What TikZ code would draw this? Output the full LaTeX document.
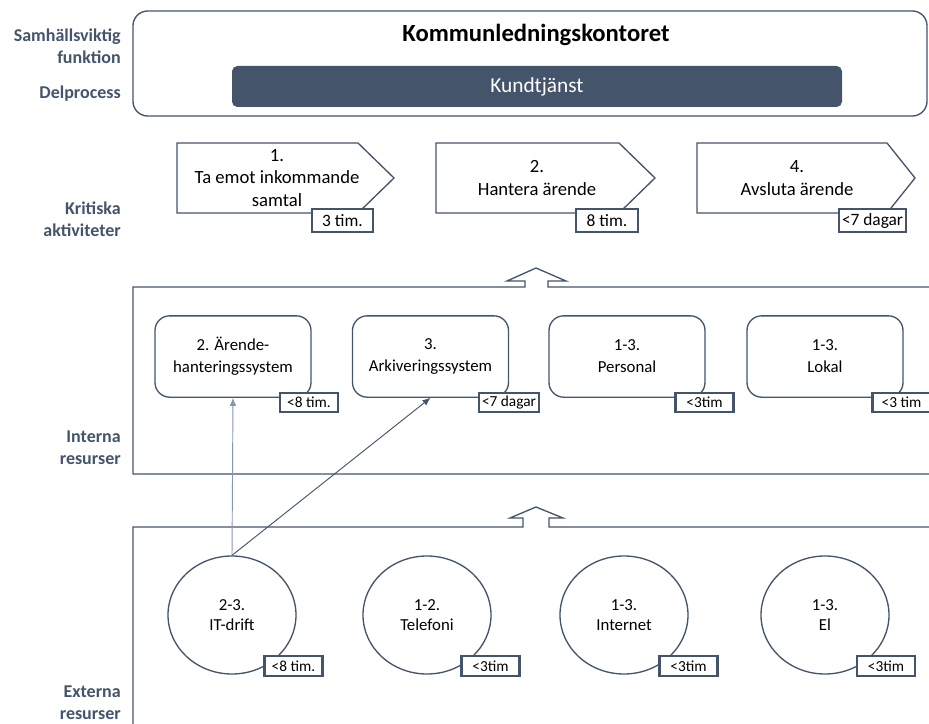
\documentclass[tikz,border=0pt]{standalone}
\usepackage{fontspec}
\setmainfont{Carlito}
\usetikzlibrary{arrows.meta}
\usetikzlibrary{shapes.geometric}
\definecolor{slate}{HTML}{44546A}
\definecolor{slatelight}{HTML}{8497B0}

\begin{document}
\begin{tikzpicture}[x=0.75pt,y=-0.75pt,
    % styles
    outline/.style={draw=slate,line width=1pt},
    side label/.style={anchor=east,align=right,inner sep=0pt,text=slate,
      font=\fontsize{13.5}{16.5}\selectfont\bfseries},
    activity/.style={outline,fill=white},
    activity text/.style={align=center,inner sep=0pt,font=\fontsize{14}{16.9}\selectfont},
    resource box/.style={outline,rounded corners=11pt,minimum width=117pt,
      minimum height=61pt,align=center,font=\fontsize{12.6}{16.5}\selectfont},
    resource ring/.style={outline,ellipse,minimum width=96pt,minimum height=88.5pt,
      align=center,font=\fontsize{12.6}{15}\selectfont},
    time box/.style={draw=slate,line width=1.6pt,fill=white,inner xsep=2pt,inner ysep=0pt},
    activity time/.style={time box,minimum width=46pt,minimum height=17pt,
      font=\fontsize{13}{14}\selectfont},
    resource time/.style={time box,minimum width=43.5pt,minimum height=14.6pt,
      font=\fontsize{11.5}{12}\selectfont},
    link/.style={slatelight,line width=0.7pt,-{Latex[length=6pt,width=5pt]}}]

  \useasboundingbox (0,0) rectangle (929,724);

  % labels on the left
  \node [side label] (lfunktion) at (121,46) {Samhällsviktig\\funktion};
  \node [side label] (ldelprocess) at (121,94) {Delprocess};
  \node [side label] (laktiviteter) at (121,219) {Kritiska\\aktiviteter};
  \node [side label] (linterna) at (121,448) {Interna\\resurser};
  \node [side label] (lexterna) at (121,703) {Externa\\resurser};

  % function and subprocess
  \draw [outline,rounded corners=11pt] (133,11) rectangle (927,116);
  \node [font=\fontsize{18.5}{20}\selectfont\bfseries] (kontor) at (536,35) {Kommunledningskontoret};
  \node [fill=slate,rounded corners=4pt,minimum width=457.5pt,minimum height=30.75pt,
    text=white,font=\fontsize{16}{18}\selectfont] (kundtjanst) at (537,86.5) {Kundtjänst};

  % critical activities
  \draw [activity] (177,143) -- (358,143) -- (394,178) -- (358,213) -- (177,213) -- cycle;
  \draw [activity] (436,143) -- (619,143) -- (655,178) -- (619,213) -- (436,213) -- cycle;
  \draw [activity] (697,143) -- (887,143) -- (915,178) -- (887,213) -- (697,213) -- cycle;
  \node [activity text] (mottag) at (277,178) {1.\\Ta emot inkommande\\samtal};
  \node [activity text] (hantera) at (537,178) {2.\\Hantera ärende};
  \node [activity text] (avsluta) at (797,178) {4.\\Avsluta ärende};
  \node [activity time] (tmottag) at (342.5,220.5) {3 tim.};
  \node [activity time] (thantera) at (607,220.5) {8 tim.};
  \node [activity time] (tavsluta) at (872.5,220.5) {<7 dagar};

  % internal resources frame with arrow
  \draw [outline] (940,287) -- (548,287) -- (548,281) -- (566,281) -- (536,268)
    -- (507,281) -- (525,281) -- (525,287) -- (133,287) -- (133,474) -- (940,474);

  % external resources frame with arrow
  \draw [outline] (940,527) -- (549,527) -- (549,518) -- (563,518) -- (536,507)
    -- (510,518) -- (523,518) -- (523,527) -- (133,527) -- (133,735);

  % internal resources
  \node [resource box] (arende) at (233,356.5) {2. Ärende-\\hanteringssystem};
  \node [resource box] (arkiv) at (430.5,356.5) {3.\\Arkiveringssystem};
  \node [resource box] (personal) at (627,356.5) {1-3.\\Personal};
  \node [resource box] (lokal) at (825,356.5) {1-3.\\Lokal};
  \node [resource time] (tarende) at (309,402.5) {<8 tim.};
  \node [resource time] (tarkiv) at (509,402.5) {<7 dagar};
  \node [resource time] (tpersonal) at (704.5,402.5) {<3tim};
  \node [resource time] (tlokal) at (901.5,402.5) {<3 tim};

  % external resources
  \node [resource ring] (itdrift) at (232,615) {2-3.\\IT-drift};
  \node [resource ring] (telefoni) at (427,615) {1-2.\\Telefoni};
  \node [resource ring] (internet) at (624,615) {1-3.\\Internet};
  \node [resource ring] (el) at (825,615) {1-3.\\El};
  \node [resource time] (titdrift) at (293.5,666) {<8 tim.};
  \node [resource time] (ttelefoni) at (490.5,666) {<3tim};
  \node [resource time] (tinternet) at (688.5,666) {<3tim};
  \node [resource time] (tel) at (886,666) {<3tim};

  % dependencies
  \draw [link] (itdrift.north) -- (arende.south);
  \draw [link,draw=slate] (itdrift.north) -- (arkiv.south);
\end{tikzpicture}
\end{document}
